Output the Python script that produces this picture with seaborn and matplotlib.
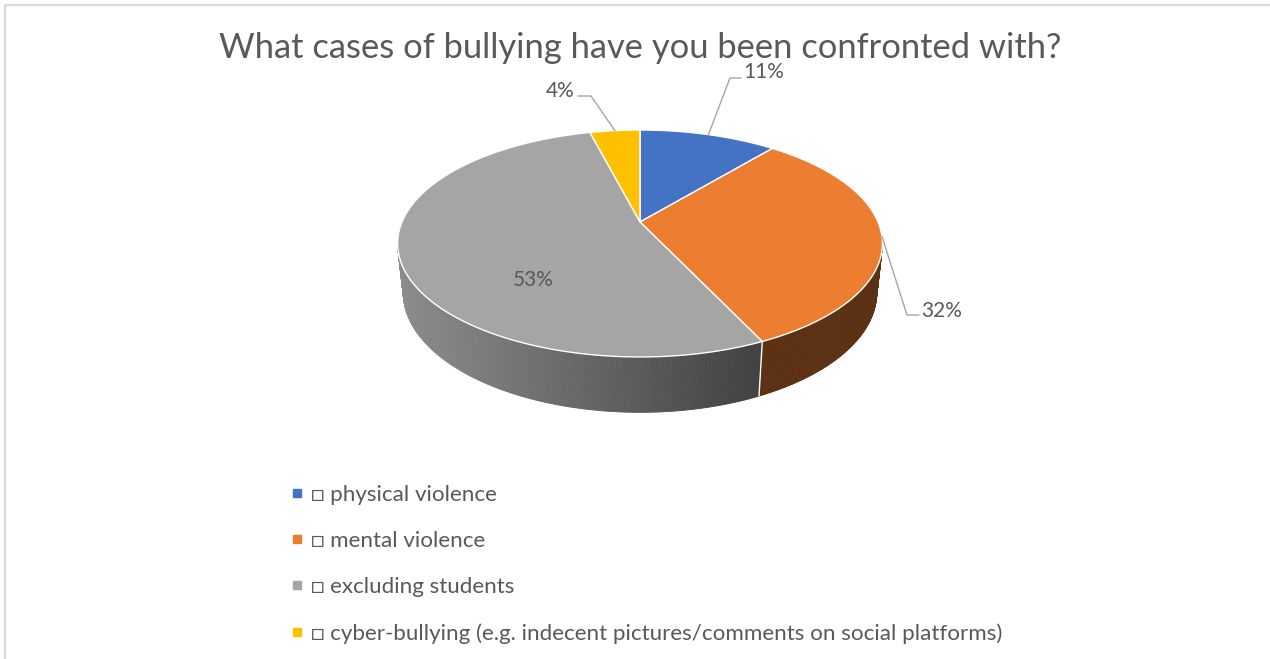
import numpy as np
import matplotlib
matplotlib.use("Agg")
import matplotlib.pyplot as plt
import seaborn as sns
from matplotlib.lines import Line2D

# ---------------- data ----------------
title = "What cases of bullying have you been confronted with?"
categories = [
    "\u25a1 physical violence",
    "\u25a1 mental violence",
    "\u25a1 excluding students",
    "\u25a1 cyber-bullying (e.g. indecent pictures/comments on social platforms)",
]
values = [11, 32, 53, 4]
value_labels = ["11%", "32%", "53%", "4%"]
colors = ["#4472C4", "#ED7D31", "#A5A5A5", "#FFC000"]

# ---------------- style ----------------
sns.set_theme(style="white")
plt.rcParams["font.family"] = ["Lato", "DejaVu Sans"]
TEXT = "#595959"
palette = sns.color_palette(colors)

W, Hpx = 1270, 659
fig = plt.figure(figsize=(W / 100, Hpx / 100), dpi=100)
ax = fig.add_axes([0, 0, 1, 1])
ax.set_xlim(0, W)
ax.set_ylim(Hpx, 0)
ax.axis("off")

# frame of the chart area
ax.plot([5, 5], [Hpx, 5], color="#d9d9d9", lw=1.6, solid_capstyle="butt")
ax.plot([5, W], [5, 5], color="#d9d9d9", lw=1.6, solid_capstyle="butt")

# ---------------- 3-D pie projection ----------------
CX, CY, K = 640, 222, 238
SN, CS, D, THICK = 0.4597, 0.888, 4.69, 0.233


def proj(t_deg, z):
    t = np.radians(np.asarray(t_deg, dtype=float))
    X, Y = np.sin(t), np.cos(t)
    s = D / (D + Y * CS - z * SN)
    return CX + K * X * s, CY - K * (Y * SN + z * CS) * s


total = float(sum(values))
bounds = np.concatenate([[0], np.cumsum(values)]) / total * 360.0

# silhouette of the rim
tg = np.linspace(0, 360, 3601)
xg, _ = proj(tg, 0)
t_right, t_left = tg[np.argmax(xg)], tg[np.argmin(xg)]
x_left, x_right = xg.min(), xg.max()


def shade(xm):
    f = 0.85 - (xm - x_left) / (763 - x_left) * 0.46
    return max(0.39, f)


# side walls
for i in range(len(values)):
    a, b = max(bounds[i], t_right), min(bounds[i + 1], t_left)
    if b <= a:
        continue
    n = int(np.ceil((b - a) / 0.5))
    ts = np.linspace(a, b, n + 1)
    xt, yt = proj(ts, 0)
    xb, yb = proj(ts, -THICK)
    base = np.array(palette[i])
    for j in range(n):
        xm = 0.5 * (xt[j] + xt[j + 1])
        c = tuple(np.clip(base * shade(xm), 0, 1))
        ax.fill([xt[j], xt[j + 1], xb[j + 1], xb[j]],
                [yt[j], yt[j + 1], yb[j + 1], yb[j]],
                facecolor=c, edgecolor=c, lw=0.6)
# white seams on the side
for t in bounds[1:-1]:
    if t_right < t < t_left:
        x0, y0 = proj(t, 0)
        x1, y1 = proj(t, -THICK)
        ax.plot([x0, x1], [y0, y1], color="white", lw=1.0)

# top face
for i in range(len(values)):
    ts = np.linspace(bounds[i], bounds[i + 1], 200)
    xr, yr = proj(ts, 0)
    ax.fill(np.concatenate([[CX], xr]), np.concatenate([[CY], yr]),
            facecolor=palette[i], edgecolor="white", lw=1.0, joinstyle="round")

# ---------------- labels ----------------
# layout: (text x, text y, ha, elbow points) ; None elbow -> label inside
layout = [
    (743, 72, "left", [(730, 78), (741, 78)]),
    (921, 311, "left", [(907, 315), (919, 315)]),
    (533, 280, "center", None),
    (575, 91, "right", [(591, 96), (578, 96)]),
]
for i, (tx, ty, ha, elbow) in enumerate(layout):
    if elbow is not None:
        mid = 0.5 * (bounds[i] + bounds[i + 1])
        ax0, ay0 = proj(mid, 0)
        xs = [float(ax0)] + [p[0] for p in elbow]
        ys = [float(ay0)] + [p[1] for p in elbow]
        ax.plot(xs, ys, color="#a6a6a6", lw=1.0)
    ax.text(tx, ty, value_labels[i], ha=ha, va="center", fontsize=15, color=TEXT)

# title
ax.text(640, 48, title, ha="center", va="center", fontsize=24.8, color=TEXT)

# legend
handles = [Line2D([], [], marker="s", ls="none", color=palette[i], markersize=5.5)
           for i in range(len(values))]
leg = ax.legend(handles, categories, loc="upper left",
                bbox_to_anchor=(279 / W, 1 - 474 / Hpx), frameon=False,
                fontsize=16.1, labelspacing=1.16, handlelength=0.6,
                handletextpad=0.35, borderpad=0, labelcolor=TEXT)

fig.savefig("out.png", dpi=100, facecolor="white")
